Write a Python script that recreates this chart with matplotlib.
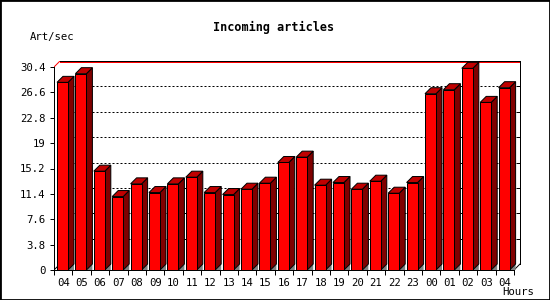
import matplotlib
matplotlib.use("Agg")
import matplotlib.pyplot as plt
from matplotlib.patches import Polygon, Rectangle

hours = ["04", "05", "06", "07", "08", "09", "10", "11", "12", "13", "14", "15",
         "16", "17", "18", "19", "20", "21", "22", "23", "00", "01", "02", "03", "04"]
rate = [28.1, 29.4, 14.8, 11.0, 12.9, 11.6, 12.9, 13.9, 11.6, 11.3, 12.1, 13.0,
        16.1, 16.9, 12.7, 13.1, 12.1, 13.3, 11.5, 13.1, 26.4, 27.0, 30.2, 25.1, 27.3]
yticks = [0, 3.8, 7.6, 11.4, 15.2, 19, 22.8, 26.6, 30.4]
ylabels = ["0", "3.8", "7.6", "11.4", "15.2", "19", "22.8", "26.6", "30.4"]

font = "DejaVu Sans Mono"
plt.rcParams["font.family"] = font

n = len(rate)
ymax = yticks[-1]
# pixel geometry of the front plane
px_x = 460 / n          # px per slot
px_y = 203 / ymax       # px per unit
depth = 6
dx = depth / px_x
dy = depth / px_y
px = 0.72               # 1 pixel in points

fig = plt.figure(figsize=(5.5, 3), dpi=100)
ax = fig.add_axes([54 / 550, 30 / 300, 466 / 550, 209 / 300])
ax.set_xlim(0, n + dx)
ax.set_ylim(0, ymax + dy)
ax.patch.set_alpha(0)

# back plane: grid and frame
for t in yticks[1:-1]:
    ax.plot([dx, n + dx], [t + dy, t + dy], color="black", lw=px,
            linestyle=(0, (2, 2)), zorder=1)
    ax.plot([n + dx - 3 / px_x, n + dx], [t + dy, t + dy], color="black", lw=px, zorder=1)
ax.plot([dx, n + dx], [ymax + dy - 1.3 / px_y, ymax + dy - 1.3 / px_y], color="red",
        lw=px, zorder=1)
ax.plot([dx, n + dx], [ymax + dy, ymax + dy], color="black", lw=px, zorder=1.5,
        clip_on=False)
ax.plot([0, dx], [ymax, ymax + dy], color="red", lw=px, zorder=1)
ax.plot([n + dx, n + dx], [dy, ymax + dy], color="black", lw=px, zorder=1,
        clip_on=False)
ax.plot([n, n + dx], [0, dy], color="black", lw=px, zorder=1)
ax.plot([0, dx], [0, dy], color="black", lw=px, zorder=1)

# 3D bars
off = 3 / px_x
w = 11 / px_x
for i, v in enumerate(rate):
    x0 = i + off
    x1 = x0 + w
    ax.add_patch(Polygon([(x1, 0), (x1 + dx, dy), (x1 + dx, 0)], closed=True,
                         facecolor="#808080", edgecolor="none", zorder=2))
    ax.add_patch(Polygon([(x1, 0), (x1 + dx, dy), (x1 + dx, v + dy), (x1, v)],
                         closed=True, facecolor="#800000", edgecolor="black",
                         lw=px, zorder=3))
    ax.add_patch(Polygon([(x0, v), (x1, v), (x1 + dx, v + dy), (x0 + dx, v + dy)],
                         closed=True, facecolor="#c00000", edgecolor="black",
                         lw=px, zorder=3))
    ax.add_patch(Rectangle((x0, 0), w, v, facecolor="#ff0000", edgecolor="black",
                           lw=px, zorder=4))

# axes
for s in ["top", "right"]:
    ax.spines[s].set_visible(False)
ax.spines["left"].set_bounds(0, ymax)
ax.spines["bottom"].set_bounds(0, n)
ax.spines["left"].set_linewidth(px)
ax.spines["bottom"].set_linewidth(px)
ax.spines["left"].set_zorder(5)
ax.spines["bottom"].set_zorder(5)

ax.set_yticks(yticks)
ax.set_yticklabels(ylabels)
ax.tick_params(axis="y", direction="out", length=3, width=px, pad=3, labelsize=7.7)
ax.set_xticks([i + 0.5 for i in range(n)])
ax.set_xticklabels(hours)
ax.set_xticks(list(range(n + 1)), minor=True)
ax.tick_params(axis="x", which="major", length=0, pad=6, labelsize=7.7)
ax.tick_params(axis="x", which="minor", direction="out", length=3.5, width=px)

fig.text(274 / 550, 1 - 27 / 300, "Incoming articles", ha="center", va="center",
         fontsize=8.5, fontweight="bold")
fig.text(30 / 550, 1 - 37 / 300, "Art/sec", ha="left", va="center", fontsize=7.7)
fig.text(534 / 550, 1 - 292 / 300, "Hours", ha="right", va="center", fontsize=7.7)

fig.patches.append(Rectangle((0, 0), 1, 1, fill=False, edgecolor="black", lw=2,
                             transform=fig.transFigure))

fig.savefig("out.png", dpi=100)
